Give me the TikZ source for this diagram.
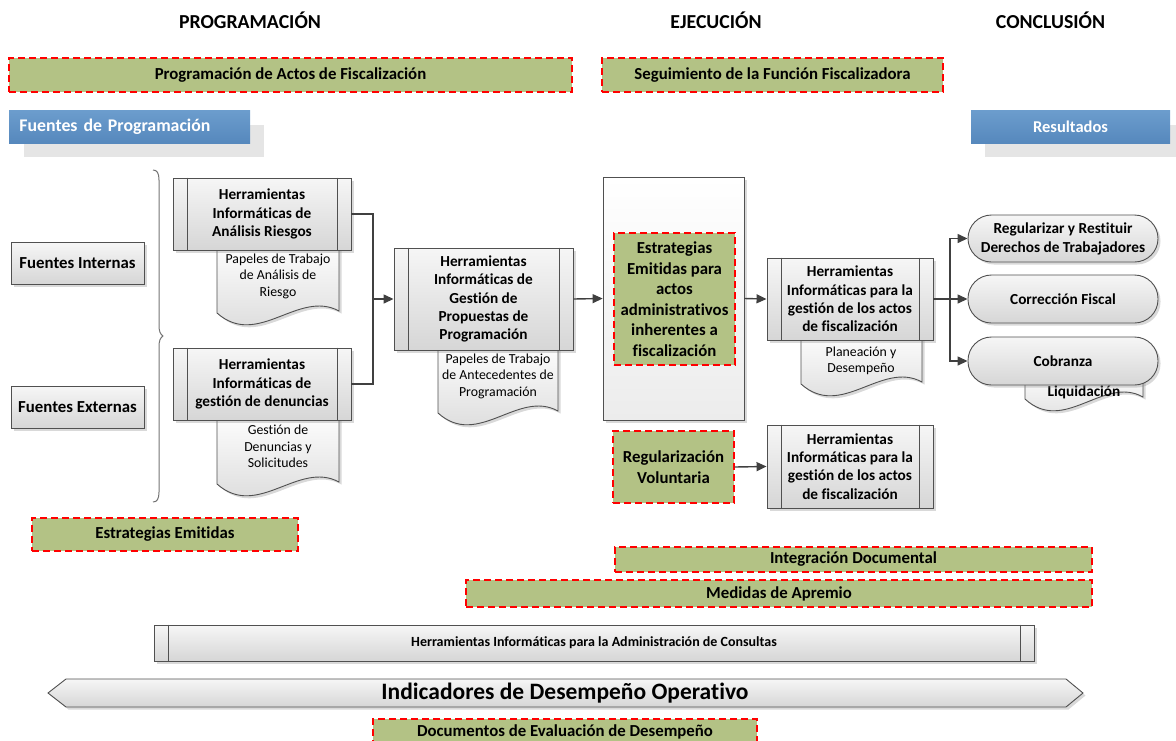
\documentclass[tikz,border=0pt]{standalone}
\usepackage{fontspec}
\setmainfont{Carlito}[Ligatures=NoCommon]
\usetikzlibrary{arrows.meta,shadows}
\definecolor{gfill}{RGB}{179,194,133}
\definecolor{rdash}{RGB}{255,0,0}
\definecolor{bluetop}{RGB}{108,157,205}
\definecolor{bluebot}{RGB}{86,136,189}
\definecolor{boxtop}{RGB}{246,246,246}
\definecolor{boxbot}{RGB}{214,214,214}
\definecolor{contbot}{RGB}{236,236,236}
\definecolor{edge}{RGB}{80,80,80}
\definecolor{arrowc}{RGB}{64,64,64}
\definecolor{shgray}{RGB}{229,229,229}
\newcommand{\fsz}[2]{\fontsize{#1}{#2}\selectfont}
\newcommand{\pplines}[2]{%
  \draw[ppline] ([xshift=#2]#1.north west) -- ([xshift=#2]#1.south west);
  \draw[ppline] ([xshift=-#2]#1.north east) -- ([xshift=-#2]#1.south east);}
\newcommand{\docshape}[4]{%
  \path[docst] (#1,#3) -- (#1,#4) .. controls ({#1+(#2-#1)/3},{#4+36}) and ({#2-(#2-#1)/3},{#4-24}) .. (#2,{#4-2}) -- (#2,#3) -- cycle;}
\tikzset{
  hdr/.style={font=\bfseries\fsz{19.8}{22}, inner sep=0pt},
  greenbox/.style={draw=rdash, fill=gfill, dash pattern=on 7pt off 4pt, line width=1.4pt, inner sep=0pt, align=center, font=\bfseries\fsz{16.8}{20.5}},
  bluebox/.style={top color=bluetop, bottom color=bluebot, inner sep=0pt, text=white},
  softshadow/.style={drop shadow={shadow xshift=2.5pt, shadow yshift=-2.5pt, opacity=0.3, fill=black!50}},
  graybox/.style={draw=edge, line width=0.9pt, top color=boxtop, bottom color=boxbot, inner sep=0pt, align=center, softshadow},
  procbox/.style={graybox, font=\bfseries\fsz{15.3}{18.3}},
  contbox/.style={draw=edge, line width=0.8pt, top color=white, bottom color=contbot, inner sep=0pt, softshadow},
  docst/.style={draw=edge, line width=0.9pt, top color=white, bottom color=boxbot, softshadow},
  doctext/.style={inner sep=0pt, align=center, font=\fsz{13.8}{16.5}},
  ppline/.style={draw=edge, line width=0.9pt},
  term/.style={graybox, rounded corners=23.5pt, font=\bfseries\fsz{15.3}{19}},
  conn/.style={draw=arrowc, line width=1.4pt},
  arr/.style={conn, -{Triangle[length=10pt,width=9pt]}},
  bracest/.style={draw=black!55, line width=1pt},
}
\begin{document}
\begin{tikzpicture}[x=1pt,y=-1pt]
\useasboundingbox (0,0) rectangle (1176,740);

% headers
\node[hdr] (h1) at (250,20) {PROGRAMACIÓN};
\node[hdr] (h2) at (716,20) {EJECUCIÓN};
\node[hdr] (h3) at (1050.5,20) {CONCLUSIÓN};

% top green boxes
\node[greenbox, minimum width=563pt, minimum height=34pt] (pa) at (290.5,75) {Programación de Actos de Fiscalización};
\node[greenbox, minimum width=341pt, minimum height=34pt] (sf) at (772.5,75) {Seguimiento de la Función Fiscalizadora};

% blue headers
\fill[shgray] (24,125) rectangle (264,157);
\node[bluebox, minimum width=241pt, minimum height=33pt, text width=220pt, align=left, font=\bfseries\fsz{17.8}{20}] (fp) at (129.5,126.5) {Fuentes de Programación};
\fill[shgray] (985,125) rectangle (1176,157);
\node[bluebox, minimum width=199pt, minimum height=33pt, font=\bfseries\fsz{16.5}{19}] (res) at (1070.5,126.5) {Resultados};

% sources
\node[graybox, minimum width=133pt, minimum height=42pt, font=\bfseries\fsz{16.8}{20}] (fi) at (77.5,263) {Fuentes Internas};
\node[graybox, minimum width=133pt, minimum height=42pt, font=\bfseries\fsz{16.8}{20}] (fe) at (77.5,407) {Fuentes Externas};

% brace
\draw[bracest] (153,170) .. controls (157,170) and (159,173) .. (159,180) -- (159,325)
  .. controls (159,331) and (160,334) .. (163,336)
  .. controls (160,338) and (159,341) .. (159,347) -- (159,492)
  .. controls (159,499) and (157,502) .. (153,502);

% documents and tools (programming)
\docshape{217}{339}{240}{313}
\node[doctext] (dA) at (278,276) {Papeles de Trabajo\\de Análisis de\\Riesgo};
\docshape{217}{339}{410}{484}
\node[doctext] (dB) at (278,446.5) {Gestión de\\Denuncias y\\Solicitudes};
\node[procbox, minimum width=178pt, minimum height=72pt] (tA) at (262,214) {Herramientas\\Informáticas de\\Análisis Riesgos};
\pplines{tA}{14.5pt}
\node[procbox, minimum width=178pt, minimum height=72pt] (tB) at (262,384) {Herramientas\\Informáticas de\\gestión de denuncias};
\pplines{tB}{14.5pt}

\docshape{438}{558}{340}{413}
\node[doctext] (dC) at (498,376) {Papeles de Trabajo\\de Antecedentes de\\Programación};
\node[procbox, minimum width=179pt, minimum height=102pt] (tC) at (483.5,299) {Herramientas\\Informáticas de\\Gestión de\\Propuestas de\\Programación};
\pplines{tC}{14.5pt}

% execution container
\node[contbox, minimum width=141pt, minimum height=243pt] (cont) at (673.5,298.5) {};
\node[greenbox, minimum width=121pt, minimum height=132pt] (est) at (674.5,299) {Estrategias\\Emitidas para\\actos\\administrativos\\inherentes a\\fiscalización};

\docshape{801}{922}{330}{384}
\node[doctext] (dD) at (861,361) {Planeación y\\Desempeño};
\node[procbox, minimum width=166pt, minimum height=82pt] (tD) at (850,299) {Herramientas\\Informáticas para la\\gestión de los actos\\de fiscalización};
\pplines{tD}{14.5pt}

\node[greenbox, minimum width=121pt, minimum height=72pt] (rv) at (673.5,467) {Regularización\\Voluntaria};
\node[procbox, minimum width=166pt, minimum height=83pt] (tE) at (850,466.5) {Herramientas\\Informáticas para la\\gestión de los actos\\de fiscalización};
\pplines{tE}{14.5pt}

% results
\docshape{1025}{1143}{370}{399}
\node[inner sep=0pt, font=\bfseries\fsz{15.3}{18}] (liq) at (1084,392) {Liquidación};
\node[term, minimum width=190pt, minimum height=47pt] (r1) at (1063,238.5) {Regularizar y Restituir\\Derechos de Trabajadores};
\node[term, minimum width=190pt, minimum height=48pt] (r2) at (1063,299) {Corrección Fiscal};
\node[term, minimum width=190pt, minimum height=48pt] (r3) at (1063,361) {Cobranza};

% connectors
\coordinate (j1) at (373,299);
\draw[conn] (tA.east) -| (j1);
\draw[conn] (tB.east) -| (j1);
\draw[arr] (j1) -- (tC.west);
\draw[arr] (tC.east) -- (cont.west);
\draw[arr] (cont.east) -- (tD.west);
\coordinate (j2) at (950,299);
\draw[conn] (tD.east) -- (j2);
\draw[arr] (j2) |- (r1.west);
\draw[arr] (j2) -- (r2.west);
\draw[arr] (j2) |- (r3.west);
\draw[arr] (rv.east) -- (tE.west);

% lower bands
\node[greenbox, minimum width=266pt, minimum height=33pt] (ee) at (165,534.5) {Estrategias Emitidas};
\node[greenbox, minimum width=477pt, minimum height=25pt] (integ) at (853.5,559.5) {Integración Documental};
\node[greenbox, minimum width=626pt, minimum height=27pt] (med) at (779,593.5) {Medidas de Apremio};
\node[graybox, minimum width=880pt, minimum height=36pt, font=\bfseries\fsz{14}{16}] (cons) at (594,643) {Herramientas Informáticas para la Administración de Consultas};
\pplines{cons}{14.5pt}
\path[graybox] (48,693) -- (66,679) -- (1066,679) -- (1083,693) -- (1066,707) -- (66,707) -- cycle;
\node[inner sep=0pt, font=\bfseries\fsz{23.5}{26}] (ind) at (565,693) {Indicadores de Desempeño Operativo};
\node[greenbox, minimum width=384pt, minimum height=25pt] (dev) at (565,731.5) {Documentos de Evaluación de Desempeño};
\end{tikzpicture}
\end{document}
